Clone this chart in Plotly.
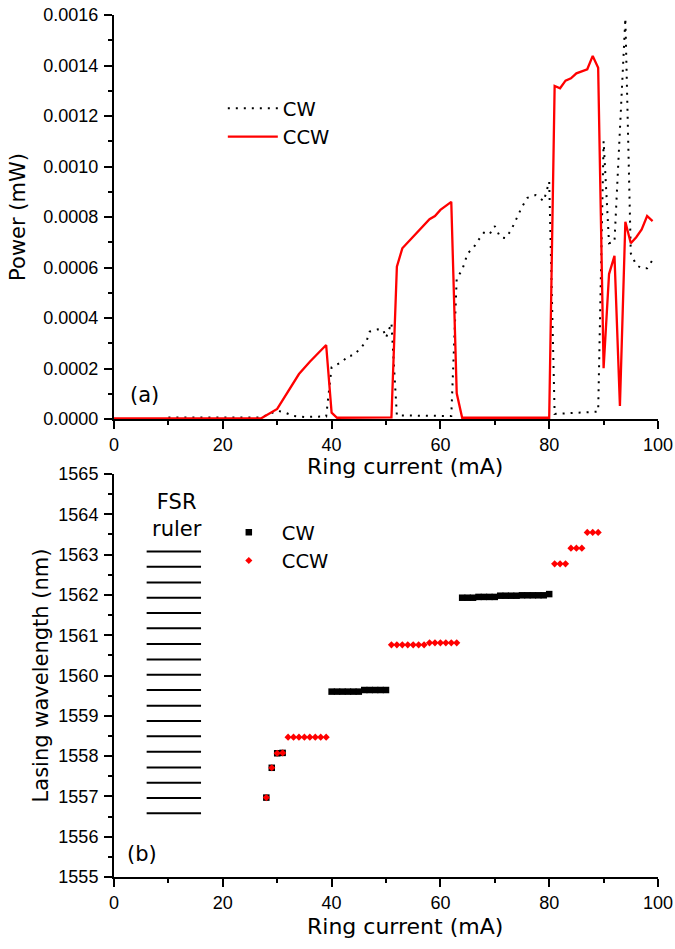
import plotly.graph_objects as go

# ---------------- Panel (a): output power vs ring current ----------------
cw_current = [10, 27, 30, 31.5, 33, 35, 39, 40, 42, 43, 44, 45.5, 46.5, 47, 48.5, 49.5, 50, 51, 52,
              62, 63, 64, 65, 66, 67, 68, 69, 70, 71, 72, 73, 74, 75, 76, 77.5, 79, 79.5, 80, 81,
              89, 90, 91, 92, 94, 95, 96, 97, 98, 99]
cw_power = [0.000006, 0.000006, 0.000033, 0.000025, 0.000012, 0.000008, 0.000010, 0.000205, 0.000227,
            0.000250, 0.000252, 0.000284, 0.000313, 0.000346, 0.000355, 0.000353, 0.000322, 0.000380,
            0.000014, 0.000012, 0.000557, 0.000590, 0.000656, 0.000676, 0.000709, 0.000738, 0.000731,
            0.000764, 0.000720, 0.000716, 0.000748, 0.000795, 0.000840, 0.000876, 0.000887, 0.000863,
            0.000900, 0.000940, 0.000020, 0.000029, 0.001100, 0.000696, 0.000702, 0.001587, 0.000656,
            0.000610, 0.000597, 0.000597, 0.000630]

ccw_current = [0, 27, 30, 34, 36, 39, 40, 41, 51, 52, 53, 58, 59, 60, 62, 63, 64, 80,
               81, 82, 83, 84, 85, 86, 87, 88, 89, 90, 91, 92, 93, 94, 95, 96, 97, 98, 99]
ccw_power = [0.000002, 0.000002, 0.000040, 0.000178, 0.000227, 0.000293, 0.000025, 0.000005,
             0.000006, 0.000603, 0.000676, 0.000791, 0.000804, 0.000828, 0.000860, 0.000102,
             0.000005, 0.000005, 0.001319, 0.001310, 0.001340, 0.001349, 0.001369, 0.001378,
             0.001385, 0.001438, 0.001391, 0.000201, 0.000574, 0.000646, 0.0000515, 0.000781,
             0.000696, 0.000720, 0.000751, 0.000804, 0.000784]

# ---------------- Panel (b): lasing wavelength vs ring current ----------------
cw_b_current = [28, 29, 30, 31,
                40, 41, 42, 43, 44, 45, 46, 47, 48, 49, 50,
                64, 65, 66, 67, 68, 69, 70, 71, 72, 73, 74, 75, 76, 77, 78, 79, 80]
cw_b_wavelength = [1556.97, 1557.71, 1558.07, 1558.08,
                   1559.60, 1559.60, 1559.60, 1559.60, 1559.60, 1559.60,
                   1559.64, 1559.64, 1559.64, 1559.64, 1559.64,
                   1561.93, 1561.93, 1561.93, 1561.95, 1561.95, 1561.95, 1561.95,
                   1561.98, 1561.98, 1561.98, 1561.98, 1561.99, 1561.99, 1561.99, 1561.99,
                   1561.99, 1562.02]

ccw_b_current = [28, 29, 30, 31,
                 32, 33, 34, 35, 36, 37, 38, 39,
                 51, 52, 53, 54, 55, 56, 57, 58, 59, 60, 61, 62, 63,
                 81, 82, 83, 84, 85, 86, 87, 88, 89]
ccw_b_wavelength = [1556.97, 1557.71, 1558.07, 1558.08,
                    1558.47, 1558.47, 1558.47, 1558.47, 1558.47, 1558.47, 1558.47, 1558.47,
                    1560.76, 1560.76, 1560.76, 1560.76, 1560.76, 1560.76, 1560.76,
                    1560.81, 1560.81, 1560.81, 1560.81, 1560.81, 1560.81,
                    1562.77, 1562.77, 1562.77, 1563.16, 1563.16, 1563.16, 1563.55, 1563.55, 1563.55]

# FSR ruler: horizontal marks spanning 6-16 mA
fsr_start, fsr_end = 6, 16
fsr_wavelength = [1563.08, 1562.70, 1562.31, 1561.93, 1561.55, 1561.17, 1560.78, 1560.40, 1560.02,
                  1559.64, 1559.25, 1558.87, 1558.49, 1558.11, 1557.72, 1557.34, 1556.96, 1556.58]

x_ticks = [0, 20, 40, 60, 80, 100]
x_title = "Ring current (mA)"

TICK_FONT = dict(family="Liberation Sans, Arial", size=18, color="black")
TEXT_FONT = dict(family="DejaVu Sans", size=21, color="black")
XT_FONT = dict(family="DejaVu Sans", size=22, color="black")
LEG_FONT = dict(family="DejaVu Sans", size=19.5, color="black")

fsr_x, fsr_y = [], []
for w in fsr_wavelength:
    fsr_x += [fsr_start, fsr_end, None]
    fsr_y += [w, w, None]

fig = go.Figure()
fig.add_trace(go.Scatter(x=cw_current, y=cw_power, mode="lines", name="CW",
                         line=dict(color="black", width=2, dash="2px,6px"),
                         xaxis="x", yaxis="y", legend="legend"))
fig.add_trace(go.Scatter(x=ccw_current, y=ccw_power, mode="lines", name="CCW",
                         line=dict(color="#ff0000", width=2.3),
                         xaxis="x", yaxis="y", legend="legend"))
fig.add_trace(go.Scatter(x=fsr_x, y=fsr_y, mode="lines", showlegend=False,
                         line=dict(color="black", width=2), xaxis="x2", yaxis="y2"))
fig.add_trace(go.Scatter(x=cw_b_current, y=cw_b_wavelength, mode="markers", name="CW",
                         marker=dict(symbol="square", size=6.5, color="black"),
                         xaxis="x2", yaxis="y2", legend="legend2"))
fig.add_trace(go.Scatter(x=ccw_b_current, y=ccw_b_wavelength, mode="markers", name="CCW",
                         marker=dict(symbol="diamond", size=5.5, color="#ff0000"),
                         xaxis="x2", yaxis="y2", legend="legend2"))

H = 949.0
PLOT_W = 675 - 114.3 - 17.3
axis_common = dict(showline=True, linecolor="black", linewidth=2, ticks="outside",
                   ticklen=8, tickwidth=1.5, tickcolor="black", showgrid=False,
                   zeroline=False, tickfont=TICK_FONT, layer="below traces")
minor_common = dict(ticklen=4, tickwidth=1.5, ticks="outside", tickcolor="black")

fig.update_layout(
    width=675, height=949,
    margin=dict(l=114.3, r=17.3, t=0, b=0),
    paper_bgcolor="white", plot_bgcolor="white",
    template="none",
    xaxis=dict(domain=[0, 1], anchor="y", range=[0, 100], tickvals=x_ticks,
               minor=dict(dtick=10, **minor_common), **axis_common),
    yaxis=dict(domain=[1 - 419 / H, 1 - 15 / H], anchor="x", range=[0, 0.0016], dtick=0.0002,
               tickformat=".4f", ticklabelstandoff=2,
               minor=dict(dtick=0.0001, **minor_common),
               title=dict(text="Power (mW)", font=TEXT_FONT, standoff=12),
               **axis_common),
    xaxis2=dict(domain=[0, 1], anchor="y2", range=[0, 100], tickvals=x_ticks,
                minor=dict(dtick=10, **minor_common), **axis_common),
    yaxis2=dict(domain=[1 - 877 / H, 1 - 474 / H], anchor="x2", range=[1555, 1565], dtick=1,
                ticklabelstandoff=2,
                minor=dict(dtick=0.5, **minor_common),
                title=dict(text="Lasing wavelength (nm)", font=TEXT_FONT, standoff=4),
                **axis_common),
    legend=dict(x=(223 - 114.3) / PLOT_W, y=1 - 89 / H, xanchor="left", yanchor="top",
                bgcolor="rgba(0,0,0,0)", font=LEG_FONT, itemwidth=50),
    legend2=dict(x=(216 - 114.3) / PLOT_W, y=1 - 513 / H, xanchor="left", yanchor="top",
                 bgcolor="rgba(0,0,0,0)", font=LEG_FONT, itemwidth=56),
    annotations=[
        dict(text=x_title, x=(405 - 114.3) / PLOT_W, y=1 - 466.5 / H, xref="paper", yref="paper",
             xanchor="center", yanchor="middle", showarrow=False, font=XT_FONT),
        dict(text=x_title, x=(405 - 114.3) / PLOT_W, y=1 - 926 / H, xref="paper", yref="paper",
             xanchor="center", yanchor="middle", showarrow=False, font=XT_FONT),
        dict(text="(a)", x=5.6, y=0.000095, xref="x", yref="y", showarrow=False, font=TEXT_FONT),
        dict(text="(b)", x=5.2, y=1555.58, xref="x2", yref="y2", showarrow=False, font=TEXT_FONT),
        dict(text="FSR<br>ruler", x=11.6, y=1563.97, xref="x2", yref="y2", showarrow=False,
             font=TEXT_FONT),
    ],
)

fig.write_html("out.html", config={"displayModeBar": False},
               post_script="document.body.style.margin='0px';")
